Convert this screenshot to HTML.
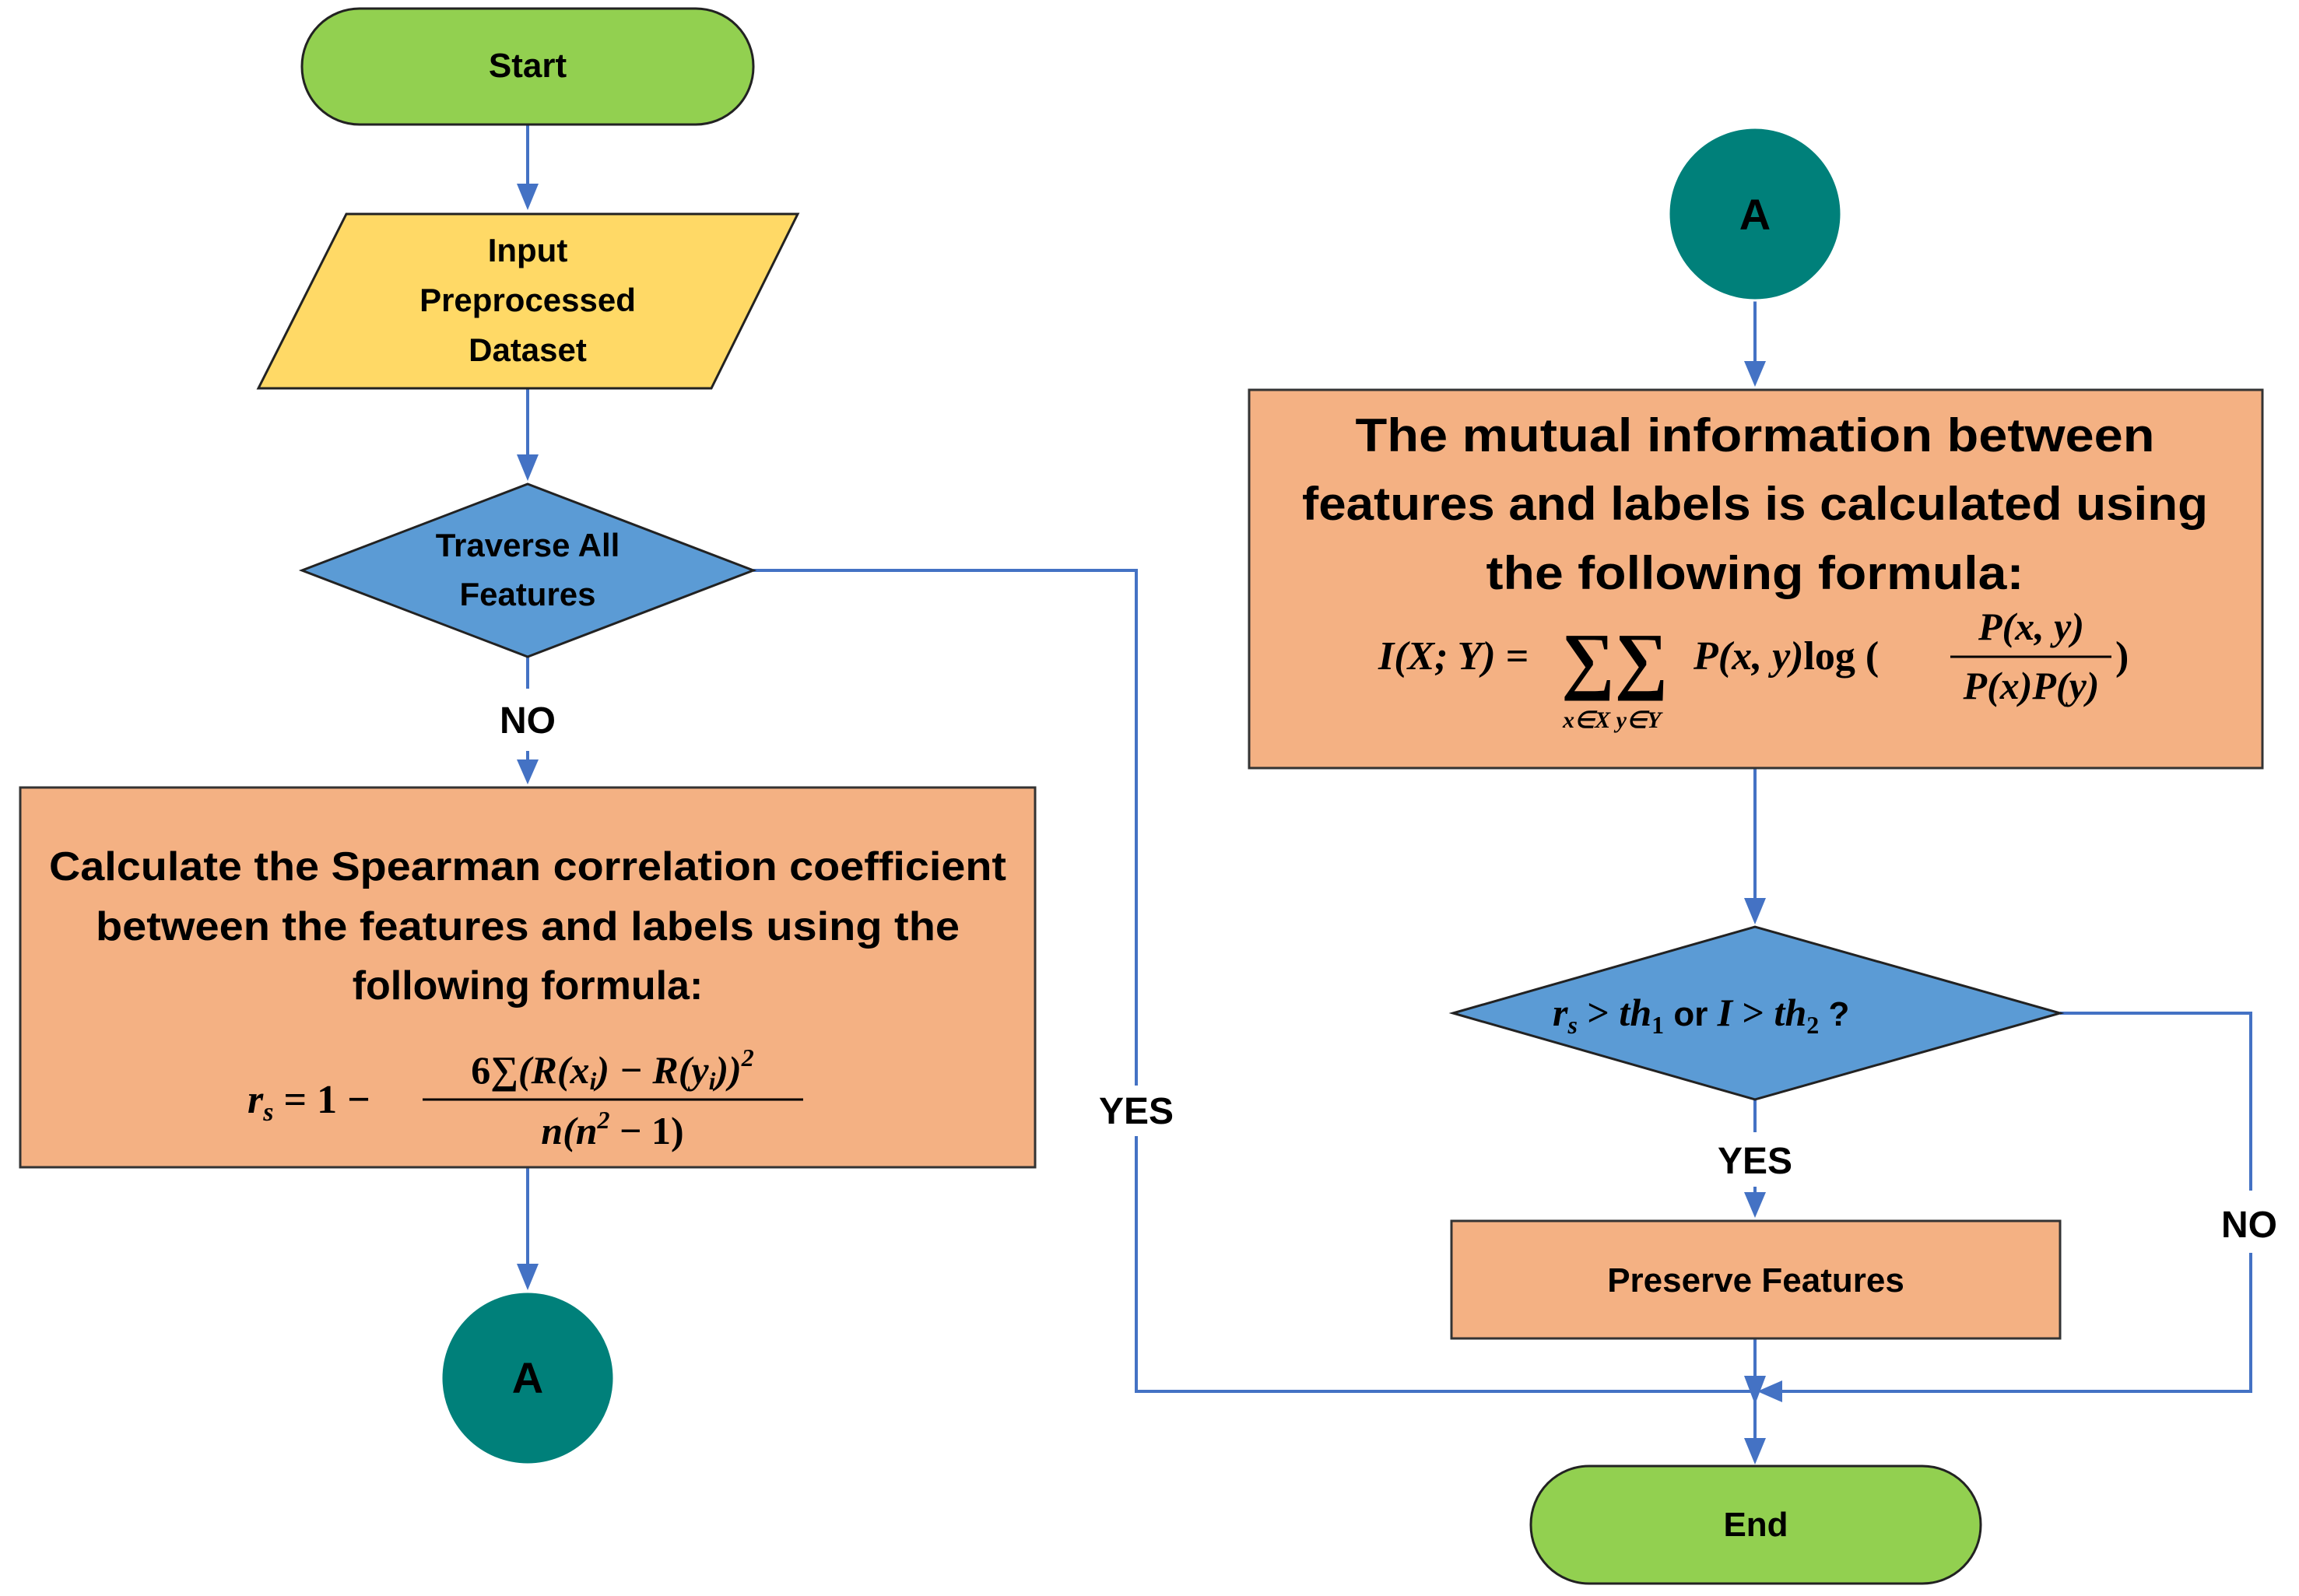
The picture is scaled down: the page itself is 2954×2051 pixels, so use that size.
<!DOCTYPE html>
<html><head><meta charset="utf-8"><style>
html,body{margin:0;padding:0;background:#fff}
svg{display:block}
.t{font-family:"Liberation Sans",sans-serif;font-weight:bold;fill:#000}
.m{font-family:"Liberation Serif",serif;font-weight:bold;font-style:italic;fill:#000}
.mr{font-family:"Liberation Serif",serif;font-weight:bold;fill:#000}
</style></head><body>
<svg width="2954" height="2051" viewBox="0 0 2954 2051" xmlns="http://www.w3.org/2000/svg">
<defs>
<marker id="ar" markerWidth="10" markerHeight="10" refX="9" refY="5" orient="auto" markerUnits="userSpaceOnUse" viewBox="0 0 10 10">
</marker>
</defs>
<g stroke="#4472C4" stroke-width="4" fill="none">
<line x1="678" y1="160" x2="678" y2="250"/>
<line x1="678" y1="499" x2="678" y2="598"/>
<line x1="678" y1="844" x2="678" y2="885"/>
<line x1="678" y1="965" x2="678" y2="990"/>
<line x1="678" y1="1500" x2="678" y2="1638"/>
<polyline points="968,733 1460,733 1460,1395"/>
<polyline points="1460,1460 1460,1788 2255,1788"/>
<line x1="2255" y1="386" x2="2255" y2="478"/>
<line x1="2255" y1="987" x2="2255" y2="1168"/>
<line x1="2255" y1="1413" x2="2255" y2="1455"/>
<line x1="2255" y1="1525" x2="2255" y2="1546"/>
<line x1="2255" y1="1720" x2="2255" y2="1862"/>
<polyline points="2647,1302 2892,1302 2892,1530"/>
<polyline points="2892,1610 2892,1788 2290,1788"/>
</g>
<g fill="#4472C4">
<polygon points="664,236 692,236 678,270"/>
<polygon points="664,584 692,584 678,618"/>
<polygon points="664,976 692,976 678,1008"/>
<polygon points="664,1624 692,1624 678,1658"/>
<polygon points="2241,464 2269,464 2255,497"/>
<polygon points="2241,1154 2269,1154 2255,1188"/>
<polygon points="2241,1532 2269,1532 2255,1565"/>
<polygon points="2241,1848 2269,1848 2255,1882"/>
<polygon points="2241,1768 2269,1768 2255,1805"/>
<polygon points="2290,1774 2290,1802 2258,1788"/>
</g>
<!-- Start -->
<rect x="388" y="11" width="580" height="149" rx="74" fill="#92D050" stroke="#222" stroke-width="3"/>
<text class="t" x="678" y="99" font-size="44" text-anchor="middle">Start</text>
<!-- Input -->
<polygon points="445,275 1025,275 914,499 332,499" fill="#FFD966" stroke="#222" stroke-width="3"/>
<text class="t" font-size="42" text-anchor="middle"><tspan x="678" y="336">Input</tspan><tspan x="678" y="400">Preprocessed</tspan><tspan x="678" y="464">Dataset</tspan></text>
<!-- diamond 1 -->
<polygon points="388,733 678,622 968,733 678,844" fill="#5B9BD5" stroke="#222" stroke-width="3"/>
<text class="t" font-size="42" text-anchor="middle"><tspan x="678" y="715">Traverse All</tspan><tspan x="678" y="778">Features</tspan></text>
<text class="t" x="678" y="942" font-size="48" text-anchor="middle">NO</text>
<!-- box1 -->
<rect x="26" y="1012" width="1304" height="488" fill="#F4B183" stroke="#333" stroke-width="3"/>
<text class="t" font-size="52" text-anchor="middle"><tspan x="678" y="1131" textLength="1230" lengthAdjust="spacingAndGlyphs">Calculate the Spearman correlation coefficient</tspan><tspan x="678" y="1208" textLength="1110" lengthAdjust="spacingAndGlyphs">between the features and labels using the</tspan><tspan x="678" y="1284">following formula:</tspan></text>
<text class="m" x="318" y="1430" font-size="52">r<tspan font-size="34" dy="10">s</tspan><tspan class="mr" font-style="normal" dy="-10"> = 1 −</tspan></text>
<text class="m" x="787" y="1392" font-size="50" text-anchor="middle"><tspan font-style="normal">6∑</tspan>(R(x<tspan font-size="32" dy="8">i</tspan><tspan dy="-8">) − R(y</tspan><tspan font-size="32" dy="8">i</tspan><tspan dy="-8">))</tspan><tspan font-size="32" dy="-22">2</tspan></text>
<line x1="543" y1="1413" x2="1032" y2="1413" stroke="#000" stroke-width="3"/>
<text class="m" x="787" y="1470" font-size="50" text-anchor="middle">n(n<tspan font-size="32" dy="-20">2</tspan><tspan dy="20" font-style="normal"> − 1)</tspan></text>
<!-- circle A -->
<circle cx="678" cy="1771" r="111" fill="#00807A" stroke="#fff" stroke-width="3"/>
<text class="t" x="678" y="1790" font-size="56" text-anchor="middle">A</text>
<text class="t" x="1460" y="1444" font-size="48" text-anchor="middle">YES</text>
<!-- circle A right -->
<circle cx="2255" cy="275" r="111" fill="#00807A" stroke="#fff" stroke-width="3"/>
<text class="t" x="2255" y="295" font-size="56" text-anchor="middle">A</text>
<!-- box2 -->
<rect x="1605" y="501" width="1302" height="486" fill="#F4B183" stroke="#333" stroke-width="3"/>
<text class="t" font-size="60" text-anchor="middle"><tspan x="2255" y="580" textLength="1027" lengthAdjust="spacingAndGlyphs">The mutual information between</tspan><tspan x="2255" y="668" textLength="1164" lengthAdjust="spacingAndGlyphs">features and labels is calculated using</tspan><tspan x="2255" y="757" textLength="691" lengthAdjust="spacingAndGlyphs">the following formula:</tspan></text>
<text class="m" x="1771" y="860" font-size="52">I(X; Y)<tspan font-style="normal"> =</tspan></text>
<text class="mr" x="2006" y="880" font-size="96">∑∑</text>
<text class="m" x="2008" y="935" font-size="30">x∈X  y∈Y</text>
<text class="m" x="2176" y="860" font-size="52">P(x, y)<tspan font-style="normal">log (</tspan></text>
<text class="m" x="2610" y="822" font-size="50" text-anchor="middle">P(x, y)</text>
<line x1="2506" y1="844" x2="2713" y2="844" stroke="#000" stroke-width="3"/>
<text class="m" x="2610" y="898" font-size="50" text-anchor="middle">P(x)P(y)</text>
<text class="mr" x="2718" y="860" font-size="52" font-weight="normal">)</text>
<!-- diamond 2 -->
<polygon points="1867,1302 2255,1191 2647,1302 2255,1413" fill="#5B9BD5" stroke="#222" stroke-width="3"/>
<text class="m" x="1995" y="1318" font-size="50">r<tspan font-size="32" dy="10">s</tspan><tspan dy="-10" font-style="normal"> &gt; </tspan>th<tspan font-size="32" dy="10" font-style="normal">1</tspan><tspan dy="-10" class="t" font-family="Liberation Sans" font-style="normal" font-size="44"> or </tspan>I<tspan font-style="normal"> &gt; </tspan>th<tspan font-size="32" dy="10" font-style="normal">2</tspan><tspan dy="-10" font-style="normal" font-family="Liberation Sans" font-size="44">   ?</tspan></text>
<text class="t" x="2255" y="1508" font-size="48" text-anchor="middle">YES</text>
<!-- preserve -->
<rect x="1865" y="1569" width="782" height="151" fill="#F4B183" stroke="#333" stroke-width="3"/>
<text class="t" x="2256" y="1660" font-size="44" text-anchor="middle">Preserve Features</text>
<text class="t" x="2890" y="1590" font-size="48" text-anchor="middle">NO</text>
<!-- End -->
<rect x="1967" y="1884" width="578" height="151" rx="75" fill="#92D050" stroke="#222" stroke-width="3"/>
<text class="t" x="2256" y="1974" font-size="44" text-anchor="middle">End</text>
</svg>
</body></html>
